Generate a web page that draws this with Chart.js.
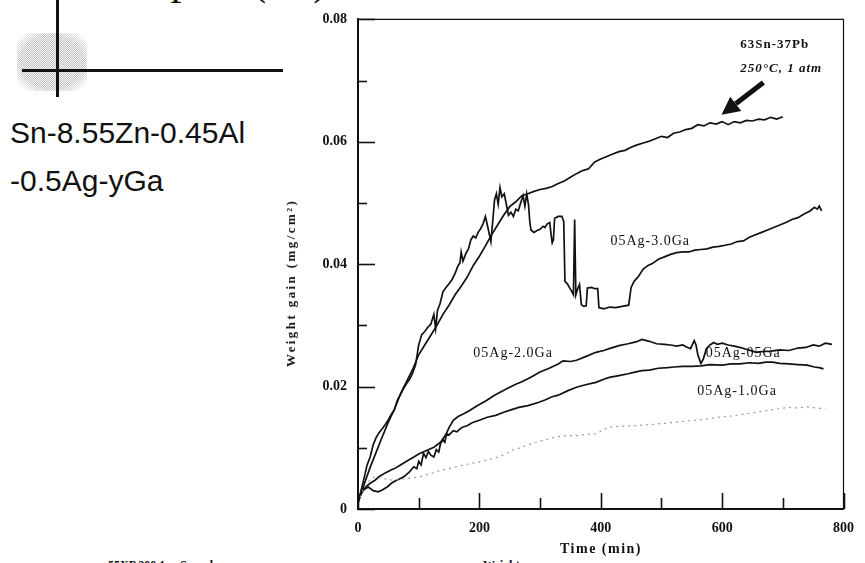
<!DOCTYPE html>
<html>
<head>
<meta charset="utf-8">
<script src="https://cdn.jsdelivr.net/npm/chart.js@4.4.1/dist/chart.umd.min.js"></script>
<style>
  html, body { margin: 0; padding: 0; background: #fff; }
  body { width: 865px; height: 563px; position: relative; overflow: hidden; font-family: 'Liberation Serif', serif; color: #111; }
  #plot { position: absolute; left: 278px; top: 0; width: 587px; height: 563px; }
  .sample { position: absolute; left: 10px; font-family: 'Liberation Sans', Arial, sans-serif; font-size: 30px; line-height: 1; white-space: nowrap; }
  .cut-top { position: absolute; left: 93px; top: -42px; font-size: 44px; line-height: 1; word-spacing: 48px; white-space: nowrap; }
  .cut-bottom { position: absolute; top: 558px; font-size: 12px; font-weight: bold; white-space: nowrap; }
  .patch { position: absolute; left: 17px; top: 33px; width: 70px; height: 58px; opacity: 0.45;
    background: repeating-conic-gradient(#777 0 25%, #f0f0f0 0 50%) 0 0 / 2px 2px;
    -webkit-mask-image: radial-gradient(ellipse at center, #000 65%, transparent 90%); }
  .bar { position: absolute; background: #111; }
  .ytitle { position: absolute; left: 291px; top: 283px; transform: translate(-50%, -50%) rotate(-90deg);
    font-size: 13px; font-weight: bold; letter-spacing: 2.4px; white-space: nowrap; }
  .xtitle { position: absolute; left: 601px; top: 549px; transform: translate(-50%, -50%);
    font-size: 14px; font-weight: bold; letter-spacing: 1.5px; white-space: nowrap; }
</style>
</head>
<body>
<div class="cut-top">Temp (°C)</div>
<div class="patch"></div>
<div class="bar" style="left:56px; top:0; width:3px; height:97px;"></div>
<div class="bar" style="left:22px; top:69px; width:261px; height:3px;"></div>
<div class="sample" style="top:118px;">Sn-8.55Zn-0.45Al</div>
<div class="sample" style="top:166px;">-0.5Ag-yGa</div>
<div class="cut-bottom" style="left:108px;">55XP 300 1x &nbsp; Sample</div>
<div class="cut-bottom" style="left:483px;">Weight</div>
<div id="plot"><canvas id="chart"></canvas></div>
<div class="ytitle">Weight gain (mg/cm²)</div>
<div class="xtitle">Time (min)</div>
<script>
  // 63Sn-37Pb reference solder
  const snPbTime = [0, 5, 10, 20, 30, 40, 50, 60, 70, 80, 90, 100, 110, 120, 130, 140, 150, 160, 170, 180,
    190, 200, 210, 220, 230, 240, 250, 260, 270, 280, 290, 300, 310, 320, 330, 340, 350, 360, 370, 380,
    390, 400, 410, 420, 430, 440, 450, 460, 470, 480, 490, 500, 510, 520, 530, 540, 550, 560, 570, 580,
    590, 600, 610, 620, 630, 640, 650, 660, 670, 680, 690, 700];
  const snPbGain = [0.001, 0.0025, 0.004, 0.0068, 0.0093, 0.0118, 0.0142, 0.0163, 0.0188, 0.0208,
    0.0228, 0.0252, 0.0268, 0.0284, 0.0300, 0.0318, 0.0333, 0.0350, 0.0364, 0.0379,
    0.0398, 0.0413, 0.0430, 0.0448, 0.0464, 0.0480, 0.0494, 0.0502, 0.0512, 0.0515,
    0.0519, 0.0522, 0.0524, 0.0527, 0.0532, 0.0536, 0.0542, 0.0548, 0.0553, 0.0556,
    0.0567, 0.0572, 0.0576, 0.0580, 0.0584, 0.0586, 0.0591, 0.0595, 0.0598, 0.0601,
    0.0605, 0.0609, 0.0607, 0.0614, 0.0616, 0.0620, 0.0622, 0.0628, 0.0626, 0.0631,
    0.0629, 0.0633, 0.0628, 0.0633, 0.0631, 0.0635, 0.0634, 0.0637, 0.0636, 0.0640,
    0.0637, 0.0641];

  // 05Ag-3.0Ga
  const ga30Time = [0, 5, 10, 15, 20, 25, 30, 35, 40, 45, 50, 55, 60, 65, 70, 75, 80, 85, 90, 95,
    100, 105, 110, 115, 120, 125, 128, 131, 135, 140, 145, 150, 155, 160, 165, 168, 170, 173, 178, 182,
    186, 190, 194, 198, 202, 206, 210, 214, 219, 222, 225, 228, 231, 234, 237, 241, 244, 248, 252, 256,
    260, 264, 268, 272, 275, 278, 281, 283, 285, 290, 295, 300, 305, 308, 312, 316, 318, 320, 322, 324,
    330, 336, 339, 341, 345, 349, 352, 355, 357, 359, 362, 365, 368, 372, 376, 378, 385, 390, 395, 397,
    405, 415, 425, 435, 446, 450, 455, 462, 470, 478, 485, 495, 505, 515, 525, 535, 545, 555, 565, 575,
    585, 595, 605, 615, 625, 635, 645, 655, 665, 675, 685, 695, 705, 715, 725, 735, 745, 752, 757, 760, 764];
  const ga30Gain = [0.001, 0.003, 0.005, 0.0072, 0.0085, 0.0105, 0.0117, 0.0125, 0.0131, 0.0138,
    0.0146, 0.0155, 0.0162, 0.0178, 0.0187, 0.0197, 0.0205, 0.0212, 0.0222, 0.0236,
    0.0268, 0.0285, 0.0290, 0.0297, 0.0302, 0.0318, 0.0295, 0.0325, 0.0335, 0.0355,
    0.0362, 0.0368, 0.0375, 0.0385, 0.0398, 0.0402, 0.0420, 0.0405, 0.0418, 0.0425,
    0.0440, 0.0446, 0.0443, 0.0452, 0.0458, 0.0466, 0.0478, 0.0460, 0.0437, 0.0470,
    0.0505, 0.0515, 0.0498, 0.0525, 0.0510, 0.0515, 0.0500, 0.0480, 0.0485, 0.0478,
    0.0490, 0.0487, 0.0500, 0.0512, 0.0495, 0.0515, 0.0497, 0.0470, 0.0456, 0.0452,
    0.0455, 0.0457, 0.0462, 0.0460, 0.0466, 0.0468, 0.0450, 0.0435, 0.0440, 0.0475,
    0.0478, 0.0478, 0.0470, 0.0372, 0.0368, 0.0361, 0.0356, 0.0350, 0.0473, 0.0350,
    0.0360, 0.0367, 0.0334, 0.0331, 0.0332, 0.0361, 0.0362, 0.0360, 0.0360, 0.0329,
    0.0327, 0.0330, 0.0329, 0.0331, 0.0333, 0.0362, 0.0372, 0.0380, 0.0392, 0.0398,
    0.0401, 0.0408, 0.0412, 0.0416, 0.0419, 0.0420, 0.0420, 0.0423, 0.0424, 0.0425,
    0.0428, 0.0429, 0.0431, 0.0433, 0.0437, 0.0438, 0.0444, 0.0448, 0.0452, 0.0456,
    0.0460, 0.0464, 0.0468, 0.0473, 0.0476, 0.0482, 0.0487, 0.0493, 0.0490, 0.0495, 0.0487];

  // 05Ag-0.5Ga (upper middle curve)
  const ga05Time = [0, 5, 10, 15, 20, 28, 35, 45, 55, 60, 70, 80, 92, 100, 114, 125, 136, 145, 150, 157,
    165, 175, 184, 195, 211, 225, 238, 250, 260, 270, 284, 300, 315, 330, 338, 350, 360, 375, 392, 405,
    414, 430, 445, 458, 468, 480, 492, 505, 515, 525, 535, 543, 548, 554, 557, 560, 565, 569, 574, 580,
    586, 592, 600, 610, 620, 629, 640, 650, 656, 665, 680, 695, 710, 725, 738, 750, 760, 770, 781];
  const ga05Gain = [0.0012, 0.0025, 0.0033, 0.0038, 0.0042, 0.0047, 0.0053, 0.0059, 0.0064, 0.0066,
    0.0072, 0.0078, 0.0085, 0.0090, 0.0096, 0.0101, 0.0109, 0.0122, 0.0133, 0.0145,
    0.0151, 0.0156, 0.0161, 0.0168, 0.0177, 0.0186, 0.0193, 0.0199, 0.0204, 0.0208,
    0.0215, 0.0224, 0.0230, 0.0237, 0.0242, 0.0241, 0.0243, 0.0249, 0.0256, 0.0259,
    0.0262, 0.0267, 0.0270, 0.0273, 0.0277, 0.0274, 0.0270, 0.0269, 0.0268, 0.0266,
    0.0268, 0.0264, 0.0262, 0.0275, 0.0268, 0.0252, 0.0238, 0.0245, 0.0262, 0.0268,
    0.0272, 0.0269, 0.0271, 0.0268, 0.0266, 0.0264, 0.0261, 0.0258, 0.0256, 0.0257,
    0.0258, 0.0260, 0.0259, 0.0263, 0.0264, 0.0268, 0.0266, 0.0271, 0.0269];

  // 05Ag-1.0Ga (lower middle curve)
  const ga10Time = [0, 5, 10, 17, 25, 33, 40, 48, 55, 62, 70, 76, 84, 92, 97, 100, 104, 108, 112, 116,
    120, 125, 129, 133, 136, 140, 143, 146, 150, 157, 163, 168, 173, 180, 188, 200, 213, 227, 240, 252,
    265, 280, 297, 308, 319, 330, 345, 360, 375, 392, 405, 414, 430, 445, 458, 468, 480, 495, 510, 521,
    535, 550, 565, 580, 600, 615, 629, 645, 660, 672, 683, 695, 710, 725, 740, 752, 760, 767];
  const ga10Gain = [0.0012, 0.0025, 0.0032, 0.0036, 0.0030, 0.0028, 0.0031, 0.0036, 0.0042, 0.0046,
    0.0050, 0.0053, 0.0060, 0.0069, 0.0066, 0.0078, 0.0072, 0.0091, 0.0084, 0.0094,
    0.0088, 0.0085, 0.0097, 0.0093, 0.0107, 0.0113, 0.0109, 0.0123, 0.0121, 0.0128,
    0.0126, 0.0131, 0.0134, 0.0136, 0.0141, 0.0145, 0.0150, 0.0153, 0.0158, 0.0162,
    0.0166, 0.0169, 0.0174, 0.0178, 0.0183, 0.0186, 0.0193, 0.0199, 0.0203, 0.0207,
    0.0212, 0.0215, 0.0218, 0.0221, 0.0224, 0.0226, 0.0227, 0.0230, 0.0231, 0.0232,
    0.0233, 0.0233, 0.0234, 0.0236, 0.0235, 0.0237, 0.0237, 0.0239, 0.0238, 0.0240,
    0.0240, 0.0238, 0.0237, 0.0236, 0.0235, 0.0232, 0.0231, 0.0229];

  // 05Ag-2.0Ga (faint dotted curve)
  const ga20Time = [0, 10, 20, 28, 40, 50, 60, 75, 90, 103, 120, 136, 150, 165, 184, 200, 222, 240, 254, 270,
    287, 305, 327, 345, 360, 375, 392, 414, 430, 450, 470, 494, 515, 535, 555, 575, 595, 615, 635, 656,
    675, 695, 710, 725, 740, 755, 770];
  const ga20Gain = [0.001, 0.0035, 0.0048, 0.0053, 0.0050, 0.0048, 0.0047, 0.0049, 0.0051, 0.0053,
    0.0058, 0.0063, 0.0066, 0.0070, 0.0074, 0.0077, 0.0082, 0.0088, 0.0096, 0.0101,
    0.0107, 0.0112, 0.0118, 0.0120, 0.0120, 0.0122, 0.0123, 0.0134, 0.0135, 0.0136,
    0.0137, 0.0139, 0.0141, 0.0143, 0.0145, 0.0147, 0.0150, 0.0152, 0.0155, 0.0158,
    0.0161, 0.0164, 0.0166, 0.0165, 0.0167, 0.0165, 0.0164];

  const xLabelled = [0, 200, 400, 600, 800];

  // text written next to the curves, anchored in data units (left edge, middle)
  const curveLabels = [
    { text: '63Sn-37Pb', t: 630, w: 0.0758, font: 'bold 13px "Liberation Serif"' },
    { text: '250°C, 1 atm', t: 630, w: 0.0719, font: 'italic bold 13px "Liberation Serif"' },
    { text: '05Ag-3.0Ga', t: 416, w: 0.0437, font: '14px "Liberation Serif"' },
    { text: '05Ag-2.0Ga', t: 190, w: 0.0255, font: '14px "Liberation Serif"' },
    { text: '05Ag-05Ga', t: 573, w: 0.0254, font: '14px "Liberation Serif"' },
    { text: '05Ag-1.0Ga', t: 559, w: 0.0193, font: '14px "Liberation Serif"' },
  ];
  const arrowFrom = { t: 668, w: 0.0697 };
  const arrowTo = { t: 599, w: 0.0644 };

  const toPoints = (times, gains) => times.map((t, i) => ({ x: t, y: gains[i] }));

  const inwardTicks = {
    id: 'inwardTicks',
    afterDatasetsDraw(chart) {
      const { ctx, chartArea: area, scales: { x, y } } = chart;
      ctx.save();
      ctx.strokeStyle = '#111';
      ctx.lineWidth = 1.2;
      ctx.beginPath();
      ctx.moveTo(area.left, area.top);
      ctx.lineTo(area.right, area.top);
      ctx.lineTo(area.right, area.bottom);
      ctx.stroke();
      ctx.lineWidth = 1.6;
      y.ticks.forEach((tick, i) => {
        const py = Math.round(y.getPixelForValue(tick.value)) + 0.5;
        const len = i % 2 ? 9 : 17;
        ctx.beginPath();
        ctx.moveTo(area.left, py);
        ctx.lineTo(area.left + len, py);
        ctx.stroke();
      });
      x.ticks.forEach((tick, i) => {
        const px = Math.round(x.getPixelForValue(tick.value)) + 0.5;
        const len = i % 2 ? 11 : 16;
        ctx.beginPath();
        ctx.moveTo(px, area.bottom);
        ctx.lineTo(px, area.bottom - len);
        ctx.stroke();
      });
      ctx.restore();
    },
  };

  const notes = {
    id: 'notes',
    afterDatasetsDraw(chart) {
      const { ctx, scales: { x, y } } = chart;
      ctx.save();
      ctx.fillStyle = '#111';
      ctx.textBaseline = 'middle';
      ctx.textAlign = 'left';
      ctx.letterSpacing = '1px';
      curveLabels.forEach((label) => {
        ctx.font = label.font;
        ctx.fillText(label.text, x.getPixelForValue(label.t), y.getPixelForValue(label.w));
      });

      const x0 = x.getPixelForValue(arrowFrom.t);
      const y0 = y.getPixelForValue(arrowFrom.w);
      const x1 = x.getPixelForValue(arrowTo.t);
      const y1 = y.getPixelForValue(arrowTo.w);
      const ang = Math.atan2(y1 - y0, x1 - x0);
      const head = 18;
      const bx = x1 - head * Math.cos(ang);
      const by = y1 - head * Math.sin(ang);
      ctx.strokeStyle = '#111';
      ctx.lineWidth = 5;
      ctx.beginPath();
      ctx.moveTo(x0, y0);
      ctx.lineTo(bx, by);
      ctx.stroke();
      ctx.beginPath();
      ctx.moveTo(x1, y1);
      ctx.lineTo(bx + 9 * Math.sin(ang), by - 9 * Math.cos(ang));
      ctx.lineTo(bx - 9 * Math.sin(ang), by + 9 * Math.cos(ang));
      ctx.closePath();
      ctx.fill();
      ctx.restore();
    },
  };

  const solid = (label, times, gains) => ({
    label,
    data: toPoints(times, gains),
    borderColor: '#111',
    borderWidth: 1.7,
    pointRadius: 0,
    tension: 0,
  });

  const tickFont = { family: 'Liberation Serif', size: 14, weight: 'bold' };

  new Chart(document.getElementById('chart'), {
    type: 'line',
    data: {
      datasets: [
        {
          label: '05Ag-2.0Ga',
          data: toPoints(ga20Time, ga20Gain),
          borderColor: '#999',
          borderWidth: 1.2,
          borderDash: [2, 4],
          pointRadius: 0,
          tension: 0,
        },
        solid('05Ag-1.0Ga', ga10Time, ga10Gain),
        solid('05Ag-0.5Ga', ga05Time, ga05Gain),
        solid('05Ag-3.0Ga', ga30Time, ga30Gain),
        solid('63Sn-37Pb', snPbTime, snPbGain),
      ],
    },
    options: {
      responsive: true,
      maintainAspectRatio: false,
      animation: false,
      layout: { padding: { left: 0, right: 13, top: 17, bottom: 0 } },
      plugins: { legend: { display: false }, tooltip: { enabled: false } },
      scales: {
        x: {
          type: 'linear',
          min: 0,
          max: 800,
          afterFit: (scale) => { scale.height = 54; },
          grid: { display: false, drawTicks: false },
          border: { display: true, width: 2, color: '#111' },
          ticks: {
            stepSize: 100,
            autoSkip: false,
            maxRotation: 0,
            padding: 11,
            color: '#111',
            font: tickFont,
            callback: (v) => (xLabelled.includes(v) ? String(v) : ''),
          },
        },
        y: {
          min: 0,
          max: 0.08,
          afterFit: (scale) => { scale.width = 80; },
          grid: { display: false, drawTicks: false },
          border: { display: true, width: 2, color: '#111' },
          ticks: {
            stepSize: 0.01,
            autoSkip: false,
            padding: 11,
            color: '#111',
            font: tickFont,
            callback: (v, i) => (i % 2 ? '' : (i === 0 ? '0' : v.toFixed(2))),
          },
        },
      },
    },
    plugins: [inwardTicks, notes],
  });
</script>
</body>
</html>
